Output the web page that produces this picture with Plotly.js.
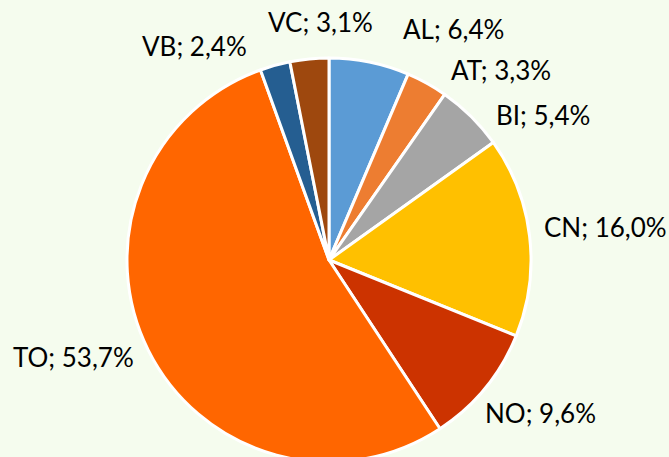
<!DOCTYPE html>
<html>
<head>
<meta charset="utf-8">
<script src="https://cdn.plot.ly/plotly-3.0.1.min.js"></script>
<style>
html,body{margin:0;padding:0;overflow:hidden;background:#F5FCEE;}
#chart{width:669px;height:470px;}
</style>
</head>
<body>
<div id="chart"></div>
<script>
const labels = ["AL", "AT", "BI", "CN", "NO", "TO", "VB", "VC"];
const values = [6.4, 3.3, 5.4, 16.0, 9.6, 53.7, 2.4, 3.1];
const colors = ["#5B9BD5", "#ED7D31", "#A5A5A5", "#FFC000", "#CC3300", "#FF6600", "#255E91", "#9E480E"];

const W = 669, H = 470;
const cx = 329, cy = 260, R = 202;

// label placement nudges (pixels, relative to each slice's outer edge midpoint)
const labelNudge = [[84, -33], [74, -13], [72, -1], [76, -9], [55, 25], [-75, 7], [-81, -19], [11, -37]];

const total = values.reduce((a, b) => a + b, 0);
let cum = 0;
const annotations = values.map((v, i) => {
  const mid = (cum + v / 2) / total * 2 * Math.PI;
  cum += v;
  const ex = cx + R * Math.sin(mid);
  const ey = cy - R * Math.cos(mid);
  const px = ex + labelNudge[i][0];
  const py = ey + labelNudge[i][1];
  return {
    xref: "paper", yref: "paper",
    x: px / W, y: 1 - py / H,
    xanchor: "center", yanchor: "middle",
    showarrow: false,
    text: labels[i] + "; " + v.toFixed(1).replace(".", ",") + "%",
    font: {family: "Lato, 'Noto Sans', sans-serif", size: 26, color: "#000000"}
  };
});

const trace = {
  type: "pie",
  labels: labels,
  values: values,
  sort: false,
  direction: "clockwise",
  rotation: 0,
  marker: {colors: colors, line: {color: "#FFFFFF", width: 3}},
  textinfo: "none",
  hoverinfo: "none",
  showlegend: false,
  domain: {x: [(cx - R) / W, (cx + R) / W], y: [1 - (cy + R) / H, 1 - (cy - R) / H]}
};

Plotly.newPlot("chart", [trace], {
  width: W, height: H,
  margin: {l: 0, r: 0, t: 0, b: 0},
  paper_bgcolor: "#F5FCEE",
  plot_bgcolor: "#F5FCEE",
  separators: ",.",
  showlegend: false,
  annotations: annotations
}, {staticPlot: true});
</script>
</body>
</html>
